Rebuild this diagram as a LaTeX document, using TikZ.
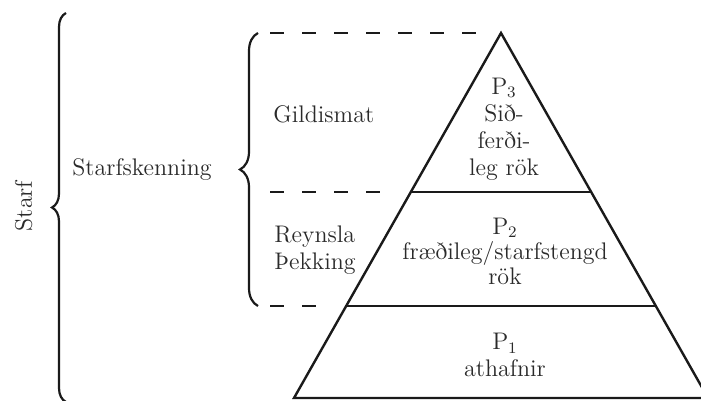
\documentclass[tikz,border=0pt]{standalone}
\usetikzlibrary{decorations.pathreplacing,calc}
\definecolor{ink}{HTML}{1A1A1A}
\definecolor{txt}{HTML}{2A2A2A}
\begin{document}
\begin{tikzpicture}[x=0.5pt,y=-0.5pt,
  lbl/.style={inner sep=0pt,text=txt,font=\fontsize{12}{13.5}\selectfont},
  blk/.style={lbl,align=center},
  tri/.style={draw=ink,line width=1.2pt,line join=miter},
  layer/.style={draw=ink,line width=0.8pt},
  guide/.style={draw=ink,line width=1pt,dash pattern=on 7pt off 9pt},
  bigbrace/.style={draw=ink,line width=1.1pt,decorate,decoration={brace,amplitude=#1}}]
\useasboundingbox (0,0) rectangle (701,401);
\clip (0,0) rectangle (701,401);
% pyramid
\coordinate (apex) at (501,33);
\coordinate (bl) at (294,398);
\coordinate (br) at (708,398);
\draw[tri] (bl) -- (apex) -- (br) -- cycle;
\coordinate (l1) at ($(apex)!0.4356!(bl)$);
\coordinate (r1) at ($(apex)!0.4356!(br)$);
\coordinate (l2) at ($(apex)!0.748!(bl)$);
\coordinate (r2) at ($(apex)!0.748!(br)$);
\draw[layer] (l1) -- (r1);
\draw[layer] (l2) -- (r2);
% texts in pyramid
\node[blk] (p3) at (504,129) {P$_3$\\Sið-\\ferði-\\leg rök};
\node[blk,font=\fontsize{12}{12.5}\selectfont] (p2) at (505,251) {P$_2$\\fræðileg/starfstengd\\rök};
\node[blk] (p1) at (505,355) {P$_1$\\athafnir};
% dashed guides
\coordinate (g1a) at (270,33);  \coordinate (g1b) at (478,33);
\coordinate (g2a) at (270,192); \coordinate (g2b) at (384,192);
\coordinate (g3a) at (270,306); \coordinate (g3b) at (317,306);
\draw[guide] (g1a) -- (g1b);
\draw[guide] (g2a) -- (g2b);
\draw[guide] (g3a) -- (g3b);
% braces
\coordinate (ob1) at (66,402); \coordinate (ob2) at (66,13);
\draw[bigbrace=7pt] (ob1) -- (ob2);
\coordinate (ib1) at (258,306); \coordinate (ib2) at (258,33);
\draw[bigbrace=9pt] (ib1) -- (ib2);
% side labels
\node[lbl,rotate=90,anchor=base] (starf) at (32,206) {Starf};
\node[lbl,anchor=base west] (sk) at (72,175) {Starfskenning};
\node[lbl,anchor=base west] (gm) at (273,123) {Gildismat};
\node[lbl,align=left,anchor=west] (rp) at (274,250) {Reynsla\\Þekking};
\end{tikzpicture}
\end{document}
